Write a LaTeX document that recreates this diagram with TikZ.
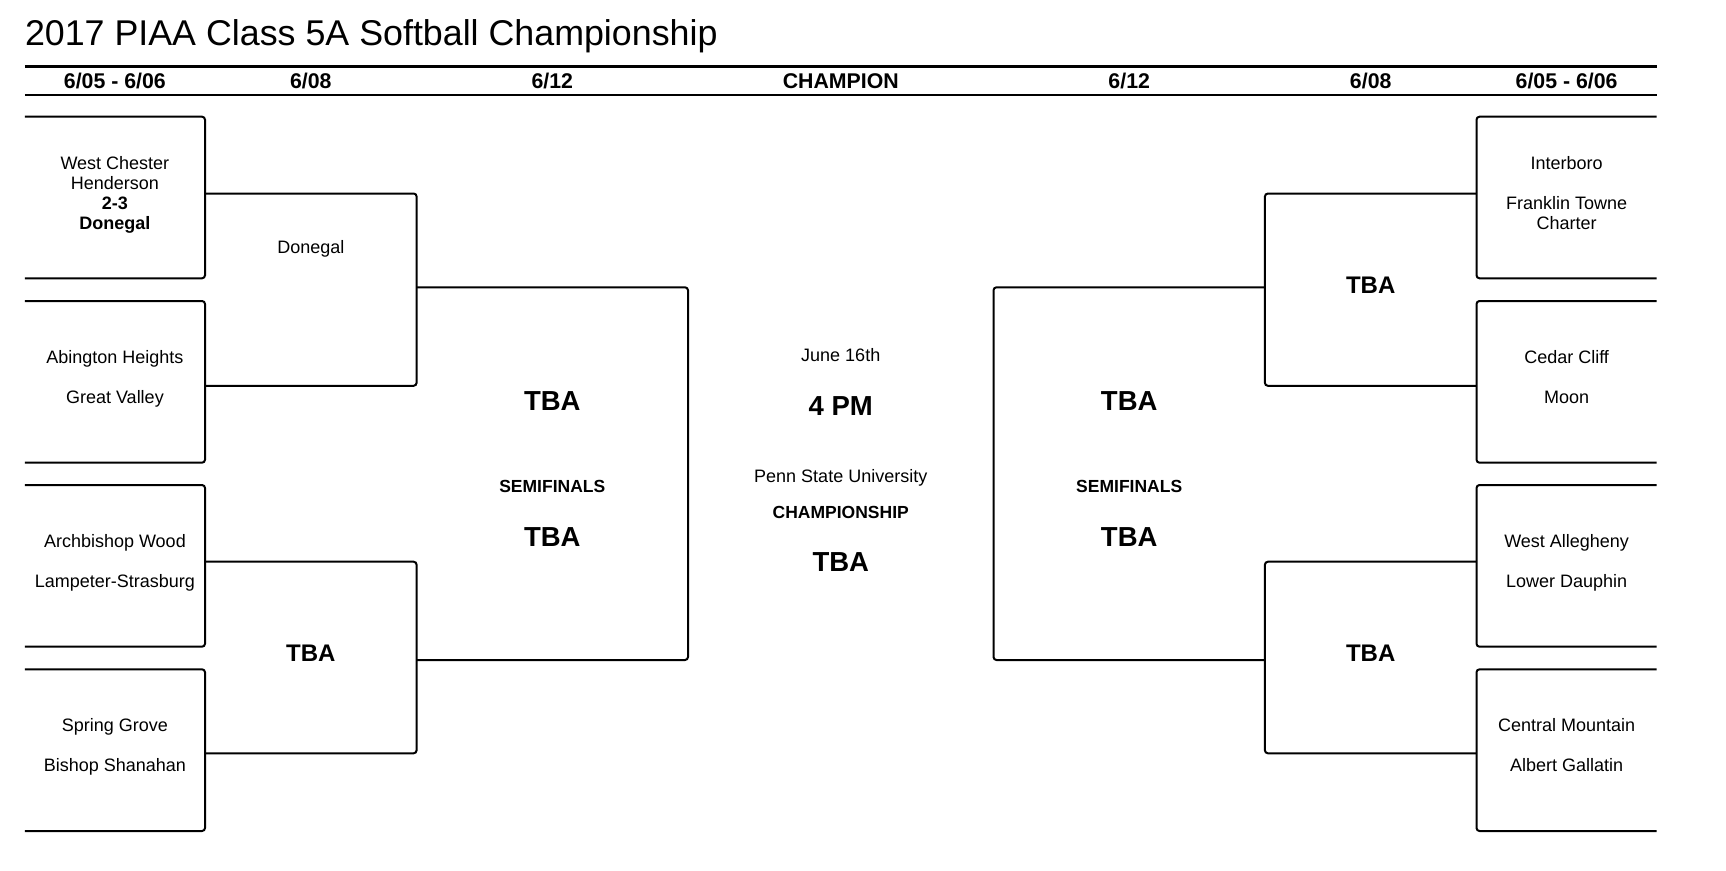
\documentclass[tikz,border=0pt]{standalone}
\usepackage{fontspec}
\setmainfont{Liberation Sans}

\tikzset{
	bracket/.style={line width=2pt, rounded corners=3pt},
	headrule/.style={line width=2.5pt},
	team/.style={anchor=base, inner sep=0pt, font=\fontsize{18}{20}\selectfont},
	teamwin/.style={anchor=base, inner sep=0pt, font=\fontsize{18}{20}\selectfont\bfseries},
	datehead/.style={anchor=base, inner sep=0pt, font=\fontsize{21.3}{24}\selectfont\bfseries},
	roundname/.style={anchor=base, inner sep=0pt, font=\fontsize{17.5}{20}\selectfont\bfseries},
	tba/.style={anchor=base, inner sep=0pt, font=\fontsize{24}{28}\selectfont\bfseries},
	bigtba/.style={anchor=base, inner sep=0pt, font=\fontsize{27.5}{30}\selectfont\bfseries}
}

\begin{document}
\begin{tikzpicture}[x=1pt, y=-1pt]
	\fill[white] (0, 0) rectangle (1726, 870);
	\useasboundingbox (0, 0) rectangle (1726, 870);

	\node[anchor=base west, inner sep=0pt, font=\fontsize{35.8}{40}\selectfont] (title) at (24.8, 45) {2017 PIAA Class 5A Softball Championship};
	\draw[headrule] (24.8, 66.7) -- (1657, 66.7);
	\draw[headrule] (24.8, 95) -- (1657, 95);
	\node[datehead] (hd1) at (114.9, 88.3) {6/05 - 6/06};
	\node[datehead] (hd2) at (310.8, 88.3) {6/08};
	\node[datehead] (hd3) at (552.3, 88.3) {6/12};
	\node[datehead] (hdc) at (840.75, 88.3) {CHAMPION};
	\node[datehead] (hd4) at (1129.2, 88.3) {6/12};
	\node[datehead] (hd5) at (1370.7, 88.3) {6/08};
	\node[datehead] (hd6) at (1566.6, 88.3) {6/05 - 6/06};

	\draw[bracket] (24.8, 116.7) -- (205, 116.7) -- (205, 278.3) -- (24.8, 278.3);
	\draw[bracket] (24.8, 301) -- (205, 301) -- (205, 462.7) -- (24.8, 462.7);
	\draw[bracket] (24.8, 485) -- (205, 485) -- (205, 646.7) -- (24.8, 646.7);
	\draw[bracket] (24.8, 669.3) -- (205, 669.3) -- (205, 831) -- (24.8, 831);
	\draw[bracket] (205, 193.5) -- (416.6, 193.5) -- (416.6, 385.8) -- (205, 385.8);
	\draw[bracket] (205, 561.7) -- (416.6, 561.7) -- (416.6, 753.3) -- (205, 753.3);
	\draw[bracket] (416.6, 287.3) -- (688, 287.3) -- (688, 660) -- (416.6, 660);

	\draw[bracket] (1656.7, 116.7) -- (1476.5, 116.7) -- (1476.5, 278.3) -- (1656.7, 278.3);
	\draw[bracket] (1656.7, 301) -- (1476.5, 301) -- (1476.5, 462.7) -- (1656.7, 462.7);
	\draw[bracket] (1656.7, 485) -- (1476.5, 485) -- (1476.5, 646.7) -- (1656.7, 646.7);
	\draw[bracket] (1656.7, 669.3) -- (1476.5, 669.3) -- (1476.5, 831) -- (1656.7, 831);
	\draw[bracket] (1476.5, 193.5) -- (1264.9, 193.5) -- (1264.9, 385.8) -- (1476.5, 385.8);
	\draw[bracket] (1476.5, 561.7) -- (1264.9, 561.7) -- (1264.9, 753.3) -- (1476.5, 753.3);
	\draw[bracket] (1264.9, 287.3) -- (993.5, 287.3) -- (993.5, 660) -- (1264.9, 660);

	\node[team] (wch) at (114.9, 169.3) {West Chester};
	\node[team] (hen) at (114.9, 189.3) {Henderson};
	\node[teamwin] (score) at (114.9, 209) {2-3};
	\node[teamwin] (don) at (114.9, 229) {Donegal};
	\node[team] (abh) at (114.9, 363.3) {Abington Heights};
	\node[team] (grv) at (114.9, 403.3) {Great Valley};
	\node[team] (arw) at (114.9, 547.5) {Archbishop Wood};
	\node[team] (lps) at (114.9, 587.5) {Lampeter-Strasburg};
	\node[team] (spg) at (114.9, 731.5) {Spring Grove};
	\node[team] (bsh) at (114.9, 771.5) {Bishop Shanahan};

	\node[team] (qfa) at (310.8, 253.6) {Donegal};
	\node[tba] (qfb) at (310.8, 661) {TBA};
	\node[bigtba] (sfa) at (552.3, 410) {TBA};
	\node[roundname] (sfl) at (552.3, 492.7) {SEMIFINALS};
	\node[bigtba] (sfb) at (552.3, 546) {TBA};

	\node[team] (date) at (840.75, 361.7) {June 16th};
	\node[bigtba] (time) at (840.75, 415.7) {4 PM};
	\node[team] (site) at (840.75, 482) {Penn State University};
	\node[roundname] (chl) at (840.75, 518.3) {CHAMPIONSHIP};
	\node[bigtba] (champ) at (840.75, 571.7) {TBA};

	\node[bigtba] (sfc) at (1129.2, 410) {TBA};
	\node[roundname] (sfr) at (1129.2, 492.7) {SEMIFINALS};
	\node[bigtba] (sfd) at (1129.2, 546) {TBA};
	\node[tba] (qfc) at (1370.7, 293.3) {TBA};
	\node[tba] (qfd) at (1370.7, 661) {TBA};

	\node[team] (itb) at (1566.6, 169.3) {Interboro};
	\node[team] (ftc) at (1566.6, 209.3) {Franklin Towne};
	\node[team] (ftc2) at (1566.6, 229.3) {Charter};
	\node[team] (cdc) at (1566.6, 363.3) {Cedar Cliff};
	\node[team] (moo) at (1566.6, 403.3) {Moon};
	\node[team] (wal) at (1566.6, 547.5) {West Allegheny};
	\node[team] (ldp) at (1566.6, 587.5) {Lower Dauphin};
	\node[team] (cmt) at (1566.6, 731.5) {Central Mountain};
	\node[team] (agl) at (1566.6, 771.5) {Albert Gallatin};
\end{tikzpicture}
\end{document}
